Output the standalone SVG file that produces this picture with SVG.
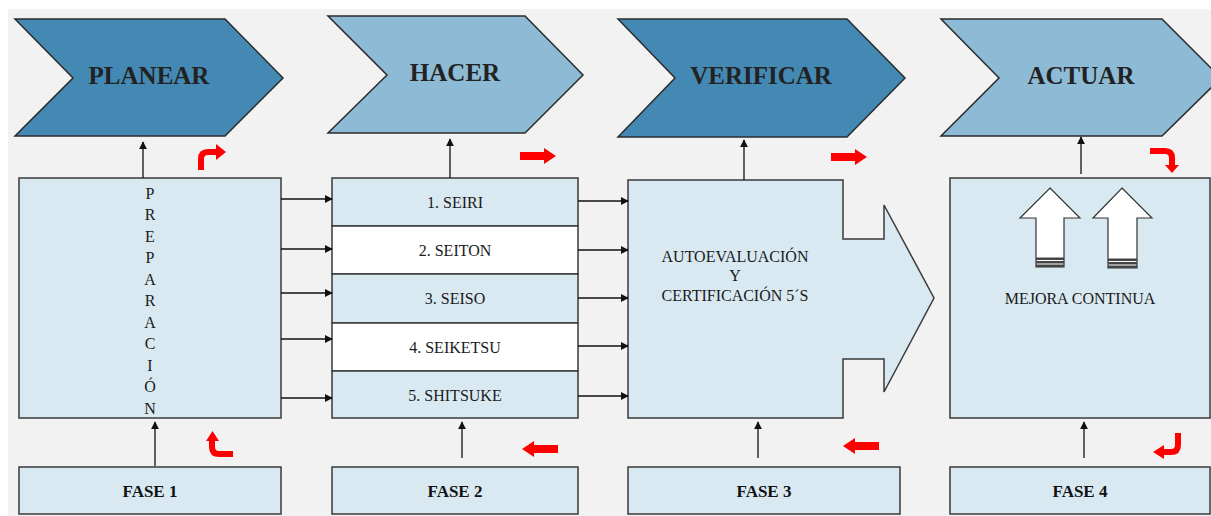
<svg xmlns="http://www.w3.org/2000/svg" width="1211" height="516" viewBox="0 0 1211 516">
<defs>
<style>
.chev{stroke:#2b2b2b;stroke-width:1.5;stroke-linejoin:miter}
.dark{fill:#4389b4}
.light{fill:#8dbbd6}
.box{fill:#d9e9f2;stroke:#3a3a3a;stroke-width:1.5}
.wbox{fill:#ffffff;stroke:#3a3a3a;stroke-width:1.5}
.title{font-family:'Liberation Serif','DejaVu Serif',serif;font-weight:bold;font-size:25px;fill:#222;text-anchor:middle}
.fase{font-family:'Liberation Serif','DejaVu Serif',serif;font-weight:bold;font-size:17px;fill:#111;text-anchor:middle}
.txt{font-family:'Liberation Serif','DejaVu Serif',serif;font-size:16px;fill:#1a1a1a;text-anchor:middle}
.conn{stroke:#111;stroke-width:1.3;fill:none;marker-end:url(#ah)}
.red{fill:#ff0000}
.redl{stroke:#ff0000;stroke-width:6;fill:none}
.blk{fill:#fff;stroke:#333;stroke-width:1.2}
.band{fill:#444}
</style>
<marker id="ah" viewBox="0 0 10 10" refX="9" refY="5" markerWidth="8" markerHeight="8" markerUnits="userSpaceOnUse" orient="auto">
<path d="M0,0 L10,5 L0,10 Z" fill="#111"/>
</marker>
</defs>
<rect x="0" y="0" width="1211" height="516" fill="#ffffff"/>
<rect x="8" y="9" width="1203" height="507" fill="#f2f2f2"/>

<g font-family="Liberation Serif, DejaVu Serif, serif">
<g id="planear">
<polygon class="chev dark" points="15,19 225,19 283,78 225,136 15,136 73,78"/>
<text class="title" x="149" y="84" font-family="Liberation Serif, serif">PLANEAR</text>
</g>
<g id="hacer">
<polygon class="chev light" points="328,16 525,16 583,75 525,133 328,133 387,75"/>
<text class="title" x="455" y="81" font-family="Liberation Serif, serif">HACER</text>
</g>
<g id="verificar">
<polygon class="chev dark" points="618,19 847,19 905,78 847,137 618,137 675,78"/>
<text class="title" x="761" y="84" font-family="Liberation Serif, serif">VERIFICAR</text>
</g>
<g id="actuar">
<polygon class="chev light" points="941,19 1162,19 1221,78 1162,136 941,136 999,78"/>
<text class="title" x="1081" y="84" font-family="Liberation Serif, serif">ACTUAR</text>
</g>

<g id="preparacion">
<rect class="box" x="19" y="178" width="262" height="240"/>
<g class="txt" font-family="Liberation Serif, serif">
<text x="150" y="199">P</text>
<text x="150" y="220">R</text>
<text x="150" y="242">E</text>
<text x="150" y="263">P</text>
<text x="150" y="285">A</text>
<text x="150" y="306">R</text>
<text x="150" y="328">A</text>
<text x="150" y="349">C</text>
<text x="150" y="371">I</text>
<text x="150" y="392">Ó</text>
<text x="150" y="414">N</text>
</g>
</g>

<g id="cincos">
<rect class="box" x="332" y="178" width="246" height="48"/>
<rect class="wbox" x="332" y="226" width="246" height="48"/>
<rect class="box" x="332" y="274" width="246" height="49"/>
<rect class="wbox" x="332" y="323" width="246" height="48"/>
<rect class="box" x="332" y="371" width="246" height="47"/>
<text class="txt" x="455" y="208">1. SEIRI</text>
<text class="txt" x="455" y="256">2. SEITON</text>
<text class="txt" x="455" y="304">3. SEISO</text>
<text class="txt" x="455" y="353">4. SEIKETSU</text>
<text class="txt" x="455" y="401">5. SHITSUKE</text>
</g>

<g id="autoevaluacion">
<polygon class="box" points="628,180 843,180 843,239 884,239 884,205 934,298 884,392 884,359 843,359 843,418 628,418"/>
<text class="txt" x="735" y="262">AUTOEVALUACIÓN</text>
<text class="txt" x="735" y="281">Y</text>
<text class="txt" x="735" y="301">CERTIFICACIÓN 5´S</text>
</g>

<g id="mejora">
<rect class="box" x="950" y="178" width="260" height="240"/>
<polygon class="blk" points="1050,188 1080,218 1064,218 1064,267 1036,267 1036,218 1020,218"/>
<rect class="band" x="1036" y="257.5" width="28" height="2.5"/>
<rect class="band" x="1036" y="261" width="28" height="2.5"/>
<rect class="band" x="1036" y="264.5" width="28" height="2.5"/>
<polygon class="blk" points="1122,188 1152,218 1137,218 1137,268 1108,268 1108,218 1093,218"/>
<rect class="band" x="1108" y="258.5" width="29" height="2.5"/>
<rect class="band" x="1108" y="262" width="29" height="2.5"/>
<rect class="band" x="1108" y="265.5" width="29" height="2.5"/>
<text class="txt" x="1080" y="304">MEJORA CONTINUA</text>
</g>

<g id="fase1">
<rect class="box" x="19" y="467" width="262" height="47"/>
<text class="fase" x="150" y="497">FASE 1</text>
</g>
<g id="fase2">
<rect class="box" x="332" y="467" width="246" height="47"/>
<text class="fase" x="455" y="497">FASE 2</text>
</g>
<g id="fase3">
<rect class="box" x="628" y="467" width="272" height="47"/>
<text class="fase" x="764" y="497">FASE 3</text>
</g>
<g id="fase4">
<rect class="box" x="950" y="467" width="260" height="47"/>
<text class="fase" x="1080" y="497">FASE 4</text>
</g>
</g>

<g id="connectors">
<line class="conn" x1="143" y1="178" x2="143" y2="142"/>
<line class="conn" x1="450" y1="178" x2="450" y2="139"/>
<line class="conn" x1="744" y1="180" x2="744" y2="140"/>
<line class="conn" x1="1081" y1="174" x2="1081" y2="137"/>
<line class="conn" x1="155" y1="466" x2="155" y2="422"/>
<line class="conn" x1="462" y1="458" x2="462" y2="422"/>
<line class="conn" x1="758" y1="458" x2="758" y2="422"/>
<line class="conn" x1="1084" y1="458" x2="1084" y2="422"/>
<line class="conn" x1="281" y1="199" x2="332" y2="199"/>
<line class="conn" x1="281" y1="249" x2="332" y2="249"/>
<line class="conn" x1="281" y1="293" x2="332" y2="293"/>
<line class="conn" x1="281" y1="339" x2="332" y2="339"/>
<line class="conn" x1="281" y1="398" x2="332" y2="398"/>
<line class="conn" x1="578" y1="201" x2="628" y2="201"/>
<line class="conn" x1="578" y1="250" x2="628" y2="250"/>
<line class="conn" x1="578" y1="298" x2="628" y2="298"/>
<line class="conn" x1="578" y1="346" x2="628" y2="346"/>
<line class="conn" x1="578" y1="396" x2="628" y2="396"/>

<path class="redl" d="M201,170 L201,159 Q201,152 208,152 L217,152"/>
<polygon class="red" points="216,144 226,152 216,160"/>
<polygon class="red" points="520,152 544,152 544,148 556,156 544,164 544,160 520,160"/>
<polygon class="red" points="831,153 855,153 855,149 867,157 855,165 855,161 831,161"/>
<path class="redl" d="M1150,151 L1165,151 Q1172,151 1172,158 L1172,166"/>
<polygon class="red" points="1165,165 1179,165 1172,173"/>
<path class="redl" d="M1178,433 L1178,445 Q1178,452 1171,452 L1162,452"/>
<polygon class="red" points="1164,445 1164,459 1153,452"/>
<polygon class="red" points="879,442 855,442 855,438 843,446 855,454 855,450 879,450"/>
<polygon class="red" points="558,445 534,445 534,441 522,449 534,457 534,453 558,453"/>
<path class="redl" d="M212,440 L212,447 Q212,454 219,454 L233,454"/>
<polygon class="red" points="206,441 219,441 212.5,431"/>
</g>
</svg>
